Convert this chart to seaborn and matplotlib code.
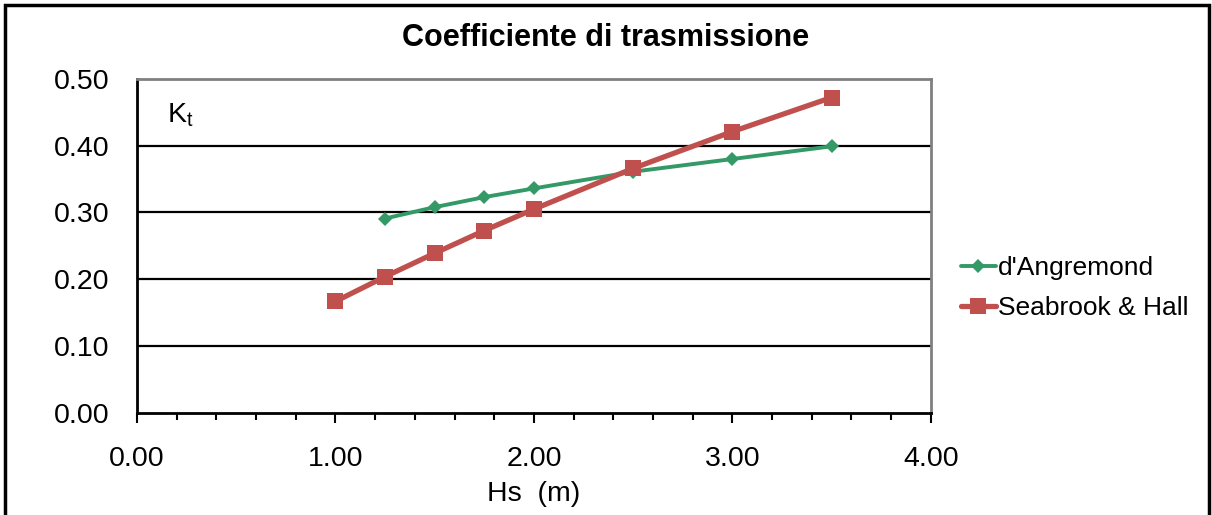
import pandas as pd
import numpy as np
import seaborn as sns
import matplotlib.pyplot as plt
from matplotlib.patches import Rectangle
from matplotlib.ticker import MultipleLocator

# Dati
hs_dang = [1.25, 1.50, 1.75, 2.00, 2.50, 3.00, 3.50]
kt_dang = [0.291, 0.308, 0.323, 0.336, 0.361, 0.380, 0.399]

hs_sh = [1.00, 1.25, 1.50, 1.75, 2.00, 2.50, 3.00, 3.50]
kt_sh = [0.167, 0.204, 0.239, 0.273, 0.305, 0.366, 0.421, 0.472]

serie = ["d'Angremond", 'Seabrook & Hall']
colori = ['#339966', '#C0504D']

df_dang = pd.DataFrame({'Hs': hs_dang, 'Kt': kt_dang, 'serie': serie[0]})
df_sh = pd.DataFrame({'Hs': hs_sh, 'Kt': kt_sh, 'serie': serie[1]})

sns.set_style('white')
plt.rcParams['font.family'] = ['Liberation Sans', 'DejaVu Sans']
plt.rcParams['mathtext.fontset'] = 'custom'
plt.rcParams['mathtext.rm'] = 'Liberation Sans'
plt.rcParams['text.color'] = 'black'
plt.rcParams['axes.labelcolor'] = 'black'
plt.rcParams['xtick.color'] = 'black'
plt.rcParams['ytick.color'] = 'black'

fs = 20.5

fig = plt.figure(figsize=(12.12, 5.15), dpi=100)
ax = fig.add_axes([0.113, 0.198, 0.655, 0.649])

# Griglia orizzontale
for v in [0.1, 0.2, 0.3, 0.4]:
    ax.axhline(v, color='black', lw=1.6, zorder=0)

sns.lineplot(data=df_dang, x='Hs', y='Kt', ax=ax, color=colori[0], lw=2.8,
             marker='D', markersize=7, markeredgewidth=0, label=serie[0])
sns.lineplot(data=df_sh, x='Hs', y='Kt', ax=ax, color=colori[1], lw=3.8,
             marker='s', markersize=11, markeredgewidth=0, label=serie[1])

ax.set_xlim(0, 4)
ax.set_ylim(0, 0.5)
ax.set_xticks([0, 1, 2, 3, 4])
ax.xaxis.set_minor_locator(MultipleLocator(0.2))
ax.set_yticks(np.arange(0, 0.51, 0.1))
ax.set_xticklabels(['%.2f' % t for t in [0, 1, 2, 3, 4]])
ax.set_yticklabels(['%.2f' % t for t in np.arange(0, 0.51, 0.1)])
ax.tick_params(axis='x', which='major', length=7, width=1.5, direction='out',
               pad=17, labelsize=fs, bottom=True)
ax.tick_params(axis='x', which='minor', length=5, width=1.5, direction='out',
               bottom=True)
ax.tick_params(axis='y', length=0, pad=20, labelsize=fs)

for s in ['left', 'bottom']:
    ax.spines[s].set_color('black')
    ax.spines[s].set_linewidth(2)
for s in ['top', 'right']:
    ax.spines[s].set_color('#808080')
    ax.spines[s].set_linewidth(2)

ax.set_xlabel('Hs  (m)', fontsize=fs, labelpad=6)
ax.set_ylabel('')
ax.text(0.038, 0.89, r'K$_\mathregular{t}$', transform=ax.transAxes,
        fontsize=fs, va='center', ha='left')

fig.suptitle('Coefficiente di trasmissione', fontsize=22, fontweight='bold',
             x=0.5, y=0.955)

ax.legend(loc='center left', bbox_to_anchor=(1.025, 0.374), frameon=False,
          fontsize=19, handlelength=1.3, handletextpad=0.1, labelspacing=0.6,
          borderaxespad=0)

# Cornice esterna
fig.patches.append(Rectangle((5 / 1212, -0.1), 1204 / 1212, 1.1 - 5 / 515,
                             transform=fig.transFigure, fill=False,
                             edgecolor='black', lw=2.5))

fig.savefig('out.png', dpi=100)
